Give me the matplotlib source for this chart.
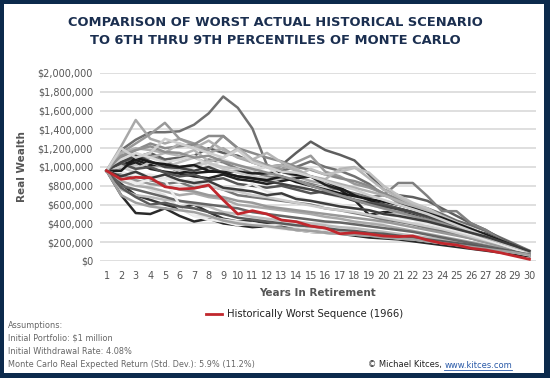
import matplotlib
matplotlib.use("Agg")
import matplotlib.pyplot as plt
from matplotlib.patches import Rectangle
from matplotlib.ticker import FuncFormatter

years = list(range(1, 31))

# worst historical sequence (1966), real wealth in $
worst_1966 = [960000, 869000, 890000, 885000, 790000, 766000, 773000, 808000, 649000, 500000,
              535000, 500000, 436000, 418000, 372000, 351000, 290000, 301000, 287000, 266000,
              259000, 266000, 223000, 188000, 170000, 135000, 117000, 88000, 53000, 18000]

# 6th - 9th percentile Monte Carlo paths, in $ thousands
mc_paths = [
    [960, 1180, 1290, 1370, 1370, 1380, 1450, 1570, 1750, 1630, 1410, 1020, 960, 1000, 1060, 1000, 960, 900, 820, 700, 650, 600, 560, 500, 430, 380, 320, 250, 180, 110],
    [960, 1050, 1100, 1150, 1080, 1100, 1120, 1200, 1150, 1120, 1050, 1000, 1020, 1150, 1270, 1180, 1130, 1070, 920, 760, 700, 680, 640, 560, 480, 400, 330, 240, 170, 100],
    [960, 1000, 1080, 1120, 1060, 1000, 1020, 1080, 1050, 980, 950, 900, 880, 860, 820, 780, 760, 720, 680, 700, 830, 830, 690, 530, 530, 400, 330, 230, 150, 100],
    [960, 1220, 1500, 1300, 1250, 1300, 1230, 1150, 1200, 1100, 1050, 1000, 950, 900, 850, 820, 760, 700, 650, 600, 550, 480, 430, 380, 320, 260, 210, 160, 120, 80],
    [960, 1150, 1250, 1350, 1470, 1300, 1250, 1180, 1330, 1200, 1080, 1020, 980, 1050, 1120, 950, 900, 820, 780, 720, 620, 560, 500, 450, 390, 330, 270, 200, 140, 90],
    [960, 1100, 1180, 1250, 1200, 1220, 1240, 1330, 1330, 1200, 1150, 1100, 1060, 1000, 970, 920, 880, 850, 800, 720, 660, 590, 520, 460, 400, 340, 280, 210, 150, 95],
    [960, 1000, 1050, 1100, 1150, 1120, 1180, 1060, 1100, 1200, 1080, 1150, 1050, 980, 900, 870, 980, 1000, 880, 760, 680, 600, 540, 470, 410, 340, 280, 210, 150, 100],
    [960, 980, 1020, 1060, 1000, 1050, 1100, 1040, 1000, 980, 900, 880, 850, 900, 980, 920, 950, 990, 940, 800, 700, 620, 560, 480, 410, 350, 280, 210, 150, 95],
    [960, 1000, 1050, 980, 950, 930, 900, 880, 920, 870, 850, 820, 850, 880, 900, 810, 760, 650, 490, 520, 520, 490, 440, 350, 340, 330, 290, 220, 150, 90],
    [960, 1020, 1075, 1020, 1020, 950, 936, 950, 950, 950, 932, 932, 950, 915, 900, 850, 780, 700, 640, 600, 560, 520, 470, 410, 350, 290, 240, 180, 130, 80],
    [960, 700, 510, 500, 560, 480, 420, 450, 400, 380, 360, 370, 350, 330, 310, 300, 290, 270, 250, 240, 230, 210, 190, 170, 150, 130, 110, 90, 70, 50],
    [960, 820, 700, 650, 600, 560, 600, 520, 450, 420, 430, 400, 380, 360, 340, 320, 300, 290, 280, 260, 250, 240, 220, 200, 180, 160, 140, 110, 90, 70],
    [960, 900, 850, 760, 700, 560, 480, 470, 440, 420, 400, 380, 390, 360, 340, 330, 300, 290, 280, 270, 260, 240, 220, 200, 180, 160, 140, 120, 95, 70],
    [960, 1080, 1150, 1100, 1050, 1080, 1120, 1000, 1080, 1020, 960, 1000, 900, 860, 800, 780, 700, 680, 620, 570, 520, 470, 420, 380, 330, 290, 240, 190, 140, 95],
    [960, 1020, 980, 1050, 1000, 960, 1000, 1050, 980, 940, 900, 880, 820, 780, 760, 720, 680, 650, 600, 560, 510, 470, 430, 380, 340, 290, 240, 190, 140, 95],
    [960, 1040, 980, 1000, 940, 900, 920, 860, 880, 820, 800, 780, 800, 760, 720, 740, 700, 650, 620, 600, 560, 520, 470, 420, 370, 320, 270, 210, 150, 100],
    [960, 880, 900, 860, 820, 840, 780, 800, 760, 700, 680, 660, 640, 620, 600, 560, 540, 510, 480, 440, 420, 390, 350, 320, 280, 240, 200, 160, 120, 80],
    [960, 850, 800, 780, 740, 700, 720, 680, 660, 600, 580, 560, 540, 520, 500, 470, 450, 420, 400, 380, 350, 320, 290, 260, 230, 200, 170, 140, 110, 80],
    [960, 760, 700, 680, 650, 640, 600, 580, 520, 500, 470, 450, 430, 420, 400, 380, 360, 350, 330, 310, 290, 270, 250, 230, 200, 180, 160, 130, 100, 75],
    [960, 920, 860, 820, 800, 760, 740, 700, 680, 640, 620, 580, 560, 540, 520, 500, 480, 460, 440, 420, 390, 360, 330, 300, 270, 240, 200, 160, 120, 85],
    [960, 800, 760, 720, 680, 640, 620, 600, 580, 560, 520, 500, 480, 460, 440, 420, 410, 390, 370, 350, 330, 310, 280, 250, 220, 190, 160, 130, 100, 70],
    [960, 1000, 940, 900, 880, 860, 820, 800, 760, 740, 700, 680, 650, 620, 590, 560, 540, 520, 490, 460, 430, 400, 370, 340, 300, 260, 220, 180, 130, 90],
    [960, 1050, 1120, 1060, 1000, 990, 960, 1000, 940, 900, 880, 850, 820, 790, 760, 720, 690, 640, 610, 580, 550, 520, 480, 440, 390, 340, 280, 220, 160, 100],
    [960, 1150, 1200, 1180, 1150, 1250, 1200, 1280, 1180, 1100, 1080, 1000, 1020, 960, 900, 860, 820, 780, 740, 700, 640, 580, 520, 460, 400, 340, 280, 220, 160, 105],
    [960, 950, 900, 920, 880, 840, 870, 820, 790, 760, 820, 740, 700, 680, 640, 620, 600, 560, 540, 500, 470, 440, 400, 360, 320, 280, 230, 180, 130, 85],
    [960, 960, 1100, 1050, 1030, 1000, 1020, 960, 940, 900, 880, 860, 900, 840, 800, 760, 720, 690, 660, 630, 600, 560, 510, 460, 400, 340, 280, 220, 160, 100],
    [960, 900, 820, 870, 860, 600, 480, 440, 420, 380, 400, 360, 340, 330, 310, 300, 290, 280, 270, 260, 240, 230, 210, 190, 170, 150, 130, 110, 90, 60],
    [960, 1120, 1180, 1220, 1160, 1150, 1100, 1120, 1060, 1020, 980, 940, 900, 860, 800, 750, 700, 650, 600, 560, 520, 480, 440, 400, 350, 300, 250, 200, 150, 100],
    [960, 780, 680, 600, 620, 580, 560, 520, 500, 460, 440, 420, 400, 380, 370, 350, 330, 320, 300, 290, 270, 250, 230, 210, 190, 170, 140, 120, 95, 70],
    [960, 1200, 1100, 1150, 1300, 1250, 1200, 1150, 1100, 1180, 1050, 1000, 950, 940, 900, 850, 800, 760, 700, 650, 600, 550, 500, 440, 380, 320, 260, 200, 150, 100],
    [960, 900, 950, 880, 920, 860, 830, 850, 780, 760, 740, 700, 720, 660, 640, 610, 580, 560, 540, 500, 480, 450, 420, 380, 340, 300, 260, 210, 160, 105],
    [960, 700, 620, 580, 560, 540, 520, 480, 430, 400, 380, 370, 350, 330, 320, 300, 290, 280, 270, 250, 240, 230, 210, 190, 170, 150, 130, 110, 90, 65],
]
mc_shades = ["#707070", "#5e5e5e", "#808080", "#a8a8a8", "#999999", "#8a8a8a", "#b5b5b5", "#c0c0c0",
             "#222222", "#1e1e1e", "#2a2a2a", "#333333", "#e0e0e0", "#d8d8d8", "#c8c8c8", "#555555",
             "#777777", "#aaaaaa", "#bbbbbb", "#999999", "#666666", "#cccccc", "#444444", "#b0b0b0",
             "#e8e8e8", "#1a1a1a", "#eeeeee", "#909090", "#5a5a5a", "#cfcfcf", "#3c3c3c", "#a0a0a0"]

y_ticks = [0, 200000, 400000, 600000, 800000, 1000000, 1200000, 1400000, 1600000, 1800000, 2000000]

navy = "#0c2a4c"
W, H = 550, 378

fig = plt.figure(figsize=(W / 100, H / 100), dpi=100)
fig.patch.set_facecolor(navy)
# white card inside the navy frame
fig.patches.append(Rectangle((4 / W, 1 - 373 / H), 540 / W, 369 / H,
                             transform=fig.transFigure, facecolor="white", edgecolor="none", zorder=-10))

ax = fig.add_axes([100 / W, 1 - 261 / H, 436 / W, 188 / H])
ax.set_facecolor("none")
ax.set_xlim(0.55, 30.45)
ax.set_ylim(0, 2000000)
ax.set_yticks(y_ticks)
ax.set_xticks(years)
ax.yaxis.set_major_formatter(FuncFormatter(lambda v, p: "${:,.0f}".format(v)))
ax.grid(axis="y", color="#dcdcdc", linewidth=1.3)
ax.set_axisbelow(True)
for s in ax.spines.values():
    s.set_visible(False)
ax.tick_params(length=0, labelsize=7, labelcolor="#555555")
ax.tick_params(axis="y", pad=5)
ax.tick_params(axis="x", pad=7)

for path, shade in zip(mc_paths, mc_shades):
    ax.plot(years, [v * 1000 for v in path], color=shade, linewidth=1.8, clip_on=False)

ax.plot(years, worst_1966, color="#c1272d", linewidth=2.0, clip_on=False, zorder=5)

ax.set_xlabel("Years In Retirement", fontsize=7.5, fontweight="bold", color="#555555", labelpad=5)
ax.set_ylabel("Real Wealth", fontsize=7.5, fontweight="bold", color="#555555", labelpad=8)

fig.text(275 / W, 1 - 22 / H, "COMPARISON OF WORST ACTUAL HISTORICAL SCENARIO",
         ha="center", va="center", fontsize=9.4, fontweight="bold", color="#1b2f50")
fig.text(275 / W, 1 - 40 / H, "TO 6TH THRU 9TH PERCENTILES OF MONTE CARLO",
         ha="center", va="center", fontsize=9.4, fontweight="bold", color="#1b2f50")

# legend
fig.lines.append(plt.Line2D([206 / W, 222 / W], [1 - 314 / H, 1 - 314 / H], transform=fig.transFigure,
                            color="#c1272d", linewidth=2.0))
fig.text(227 / W, 1 - 314 / H, "Historically Worst Sequence (1966)", ha="left", va="center",
         fontsize=7.2, color="#222222")

notes = ["Assumptions:", "Initial Portfolio: $1 million", "Initial Withdrawal Rate: 4.08%",
         "Monte Carlo Real Expected Return (Std. Dev.): 5.9% (11.2%)"]
for i, line in enumerate(notes):
    fig.text(8 / W, 1 - (325 + i * 13.3) / H, line, ha="left", va="center", fontsize=5.9, color="#666666")

link = fig.text(512 / W, 1 - 365 / H, "www.kitces.com", ha="right", va="center", fontsize=6.0, color="#2a5aa8")
fig.canvas.draw()
bb = link.get_window_extent()
fig.text(bb.x0 / W, 1 - 365 / H, "© Michael Kitces, ", ha="right", va="center", fontsize=6.0, color="#222222")
fig.lines.append(plt.Line2D([bb.x0 / W, bb.x1 / W], [(bb.y0 - 0.5) / H, (bb.y0 - 0.5) / H],
                            transform=fig.transFigure, color="#2a5aa8", linewidth=0.6))

fig.savefig("out.png", dpi=100, facecolor=navy)
